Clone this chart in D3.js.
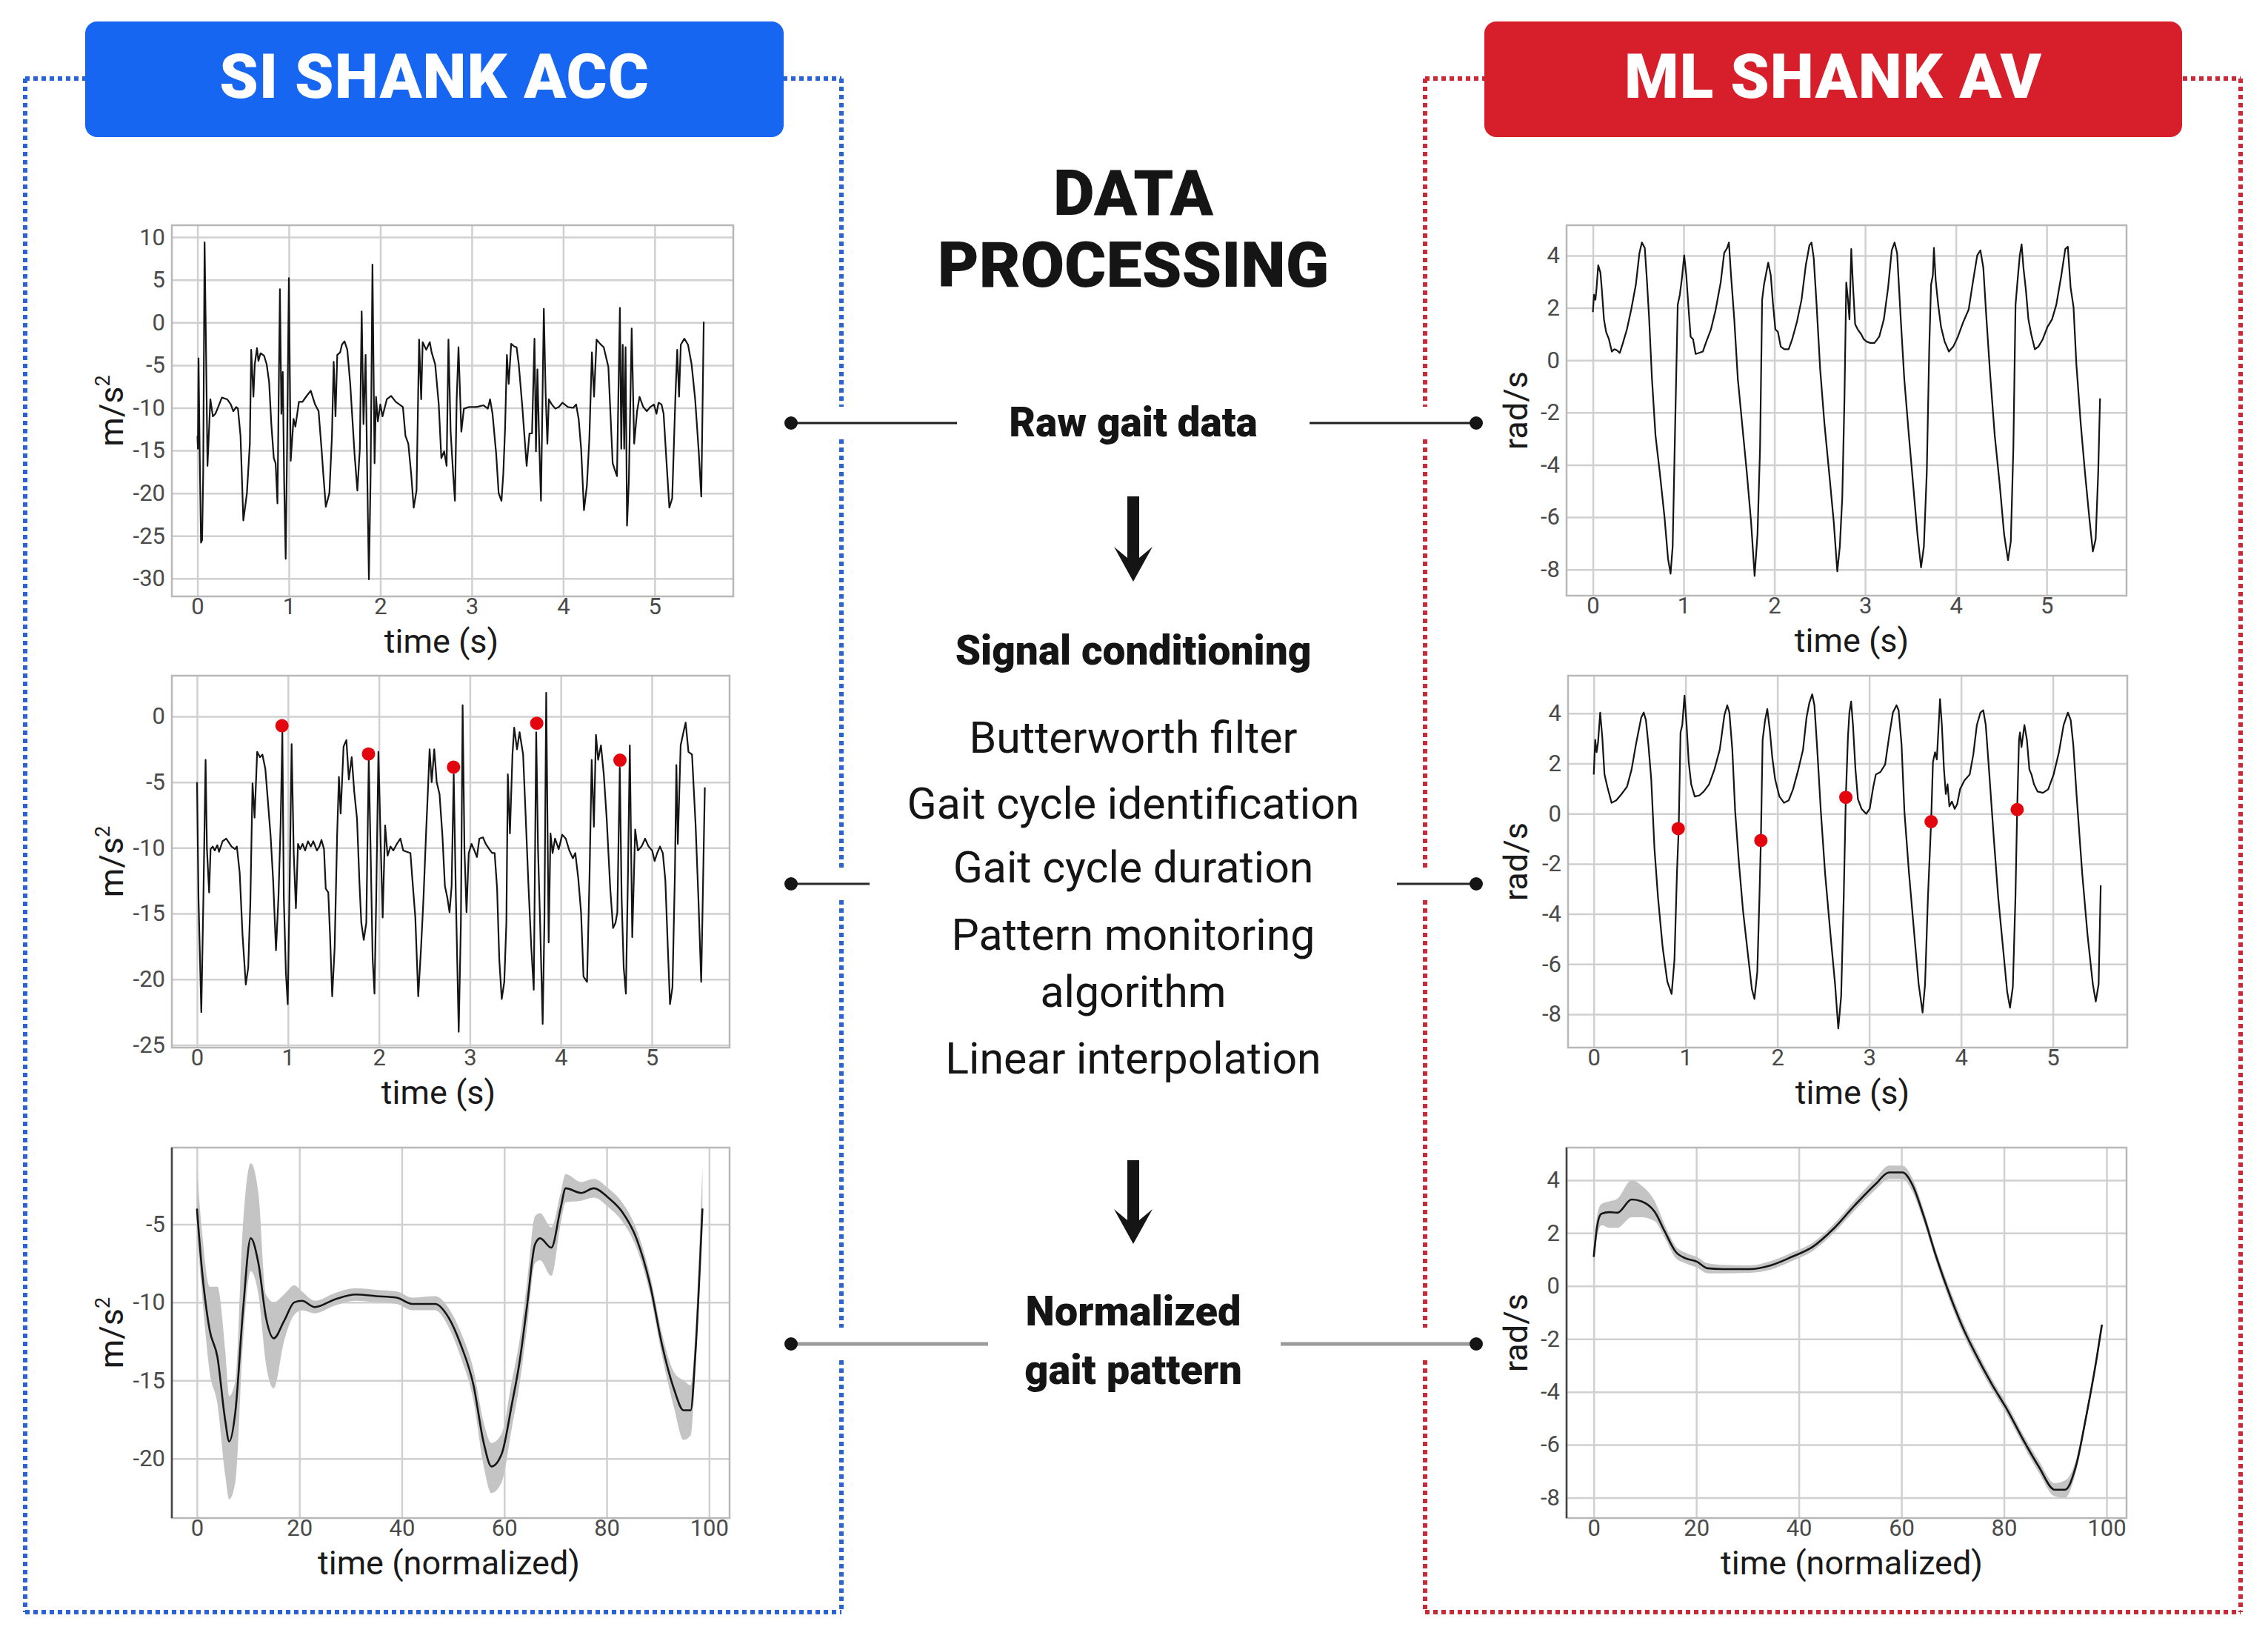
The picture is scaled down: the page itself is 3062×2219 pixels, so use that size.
<!DOCTYPE html>
<html>
<head>
<meta charset="utf-8">
<script src="https://cdn.jsdelivr.net/npm/d3@7"></script>
<style>
  body { margin: 0; background: #fff; }
  text { font-family: Roboto, "Noto Sans", sans-serif; }
</style>
</head>
<body>
<script>
// Gait data processing figure, drawn with D3

// tick labels
var timeTicks = [0, 1, 2, 3, 4, 5];
var normTicks = [0, 20, 40, 60, 80, 100];
var accRawTicks = [-30, -25, -20, -15, -10, -5, 0, 5, 10];
var accFiltTicks = [-25, -20, -15, -10, -5, 0];
var accNormTicks = [-20, -15, -10, -5];
var avTicks = [-8, -6, -4, -2, 0, 2, 4];

// texts
var leftTitle = "SI SHANK ACC",
    rightTitle = "ML SHANK AV",
    stepTitle = ["DATA", "PROCESSING"],
    stepRaw = "Raw gait data",
    stepCond = "Signal conditioning",
    condItems = ["Butterworth filter", "Gait cycle identification", "Gait cycle duration",
                 "Pattern monitoring", "algorithm", "Linear interpolation"],
    stepNorm = ["Normalized", "gait pattern"];

// SI shank acceleration, raw [time s, m/s2]
var accRaw = [[0.00,-13.3],[0.005,-14.8],[0.012,-4.2],[0.024,-14.8],[0.039,-25.8],[0.051,-25.5],[0.063,-17.7],[0.078,9.4],[0.094,-3.2],[0.110,-16.8],[0.141,-9.0],[0.169,-11.0],[0.196,-10.7],[0.227,-9.9],[0.267,-8.8],[0.325,-9.0],[0.365,-9.6],[0.392,-10.4],[0.424,-9.9],[0.443,-10.1],[0.471,-13.3],[0.502,-23.2],[0.541,-20.0],[0.573,-14.2],[0.588,-3.2],[0.612,-8.7],[0.627,-4.9],[0.651,-3.0],[0.667,-4.5],[0.690,-3.6],[0.729,-3.9],[0.757,-4.9],[0.784,-7.0],[0.808,-11.9],[0.835,-15.9],[0.855,-16.5],[0.875,-21.2],[0.902,3.9],[0.918,-10.7],[0.933,-5.8],[0.949,-19.1],[0.965,-27.7],[0.980,-14.8],[1.000,5.2],[1.020,-16.2],[1.051,-11.3],[1.071,-12.2],[1.110,-9.3],[1.149,-9.3],[1.188,-8.7],[1.239,-8.0],[1.286,-9.6],[1.325,-10.4],[1.357,-14.8],[1.376,-17.7],[1.404,-21.6],[1.443,-20.0],[1.471,-13.3],[1.490,-4.6],[1.510,-11.0],[1.529,-3.8],[1.561,-3.5],[1.580,-2.6],[1.608,-2.2],[1.639,-3.2],[1.671,-7.2],[1.698,-11.9],[1.718,-15.4],[1.749,-19.7],[1.776,-14.8],[1.796,1.3],[1.816,-11.9],[1.839,-3.8],[1.855,-16.5],[1.875,-30.1],[1.894,-17.7],[1.914,6.8],[1.937,-16.5],[1.953,-8.7],[1.973,-11.6],[2.000,-9.6],[2.024,-11.0],[2.071,-9.0],[2.118,-8.6],[2.169,-9.3],[2.208,-9.6],[2.247,-9.9],[2.275,-13.3],[2.306,-14.2],[2.337,-17.7],[2.365,-21.7],[2.396,-19.7],[2.424,-2.0],[2.447,-9.0],[2.463,-2.3],[2.502,-3.2],[2.541,-2.3],[2.561,-3.5],[2.600,-4.9],[2.639,-9.6],[2.667,-15.9],[2.698,-15.1],[2.725,-16.8],[2.745,-2.0],[2.769,-12.8],[2.796,-17.7],[2.816,-20.9],[2.835,-9.0],[2.855,-2.9],[2.886,-12.8],[2.914,-10.1],[2.973,-9.9],[3.051,-9.9],[3.129,-9.7],[3.176,-10.1],[3.200,-9.0],[3.227,-10.7],[3.267,-15.4],[3.294,-20.0],[3.325,-20.9],[3.345,-17.7],[3.365,-12.2],[3.384,-3.8],[3.404,-7.2],[3.431,-2.5],[3.463,-2.8],[3.490,-2.9],[3.514,-4.9],[3.553,-9.9],[3.600,-16.8],[3.631,-13.0],[3.659,-13.0],[3.686,-1.9],[3.702,-15.1],[3.718,-5.5],[3.737,-13.9],[3.757,-20.9],[3.788,1.6],[3.808,-8.4],[3.827,-14.2],[3.843,-9.0],[3.875,-9.6],[3.914,-10.1],[3.953,-9.9],[3.992,-9.4],[4.051,-9.9],[4.110,-10.0],[4.141,-9.6],[4.169,-11.3],[4.196,-14.8],[4.227,-22.0],[4.259,-19.1],[4.286,-13.6],[4.314,-3.5],[4.337,-8.7],[4.365,-2.0],[4.404,-2.5],[4.443,-2.9],[4.494,-5.2],[4.541,-16.5],[4.588,-18.0],[4.620,1.7],[4.635,-14.8],[4.651,-2.6],[4.667,-14.8],[4.682,-2.9],[4.698,-23.8],[4.718,-18.6],[4.749,-0.7],[4.776,-14.2],[4.808,-10.4],[4.835,-8.7],[4.875,-9.9],[4.914,-10.4],[4.953,-9.9],[4.992,-9.6],[5.020,-10.7],[5.043,-9.4],[5.075,-9.6],[5.098,-10.7],[5.129,-16.2],[5.161,-21.7],[5.192,-20.6],[5.227,-8.7],[5.247,-3.2],[5.267,-8.7],[5.286,-2.6],[5.325,-1.9],[5.365,-2.6],[5.404,-4.9],[5.443,-9.0],[5.482,-15.1],[5.510,-20.4],[5.537,0.1]];

// SI shank acceleration, conditioned
var accFilt = [[0.000,-5.0],[0.016,-13.8],[0.047,-22.5],[0.070,-13.8],[0.094,-3.3],[0.109,-10.1],[0.133,-13.4],[0.149,-10.1],[0.172,-9.9],[0.195,-10.2],[0.223,-9.8],[0.242,-10.3],[0.281,-9.5],[0.321,-9.3],[0.379,-9.9],[0.418,-10.1],[0.438,-9.9],[0.469,-11.9],[0.500,-16.6],[0.536,-20.4],[0.563,-19.1],[0.586,-14.2],[0.610,-5.1],[0.633,-7.7],[0.661,-2.7],[0.692,-3.1],[0.719,-2.9],[0.751,-4.0],[0.782,-6.7],[0.809,-9.1],[0.837,-12.5],[0.868,-17.8],[0.895,-13.8],[0.919,-8.2],[0.938,-1.2],[0.954,-13.8],[0.977,-19.5],[0.997,-21.9],[1.016,-13.8],[1.040,-2.1],[1.063,-10.4],[1.087,-14.6],[1.110,-9.7],[1.134,-10.1],[1.161,-9.7],[1.188,-10.2],[1.220,-9.5],[1.251,-9.9],[1.278,-9.5],[1.318,-10.2],[1.345,-9.9],[1.368,-9.4],[1.396,-10.1],[1.415,-13.1],[1.443,-13.4],[1.462,-16.6],[1.486,-21.3],[1.513,-17.6],[1.540,-9.1],[1.560,-4.6],[1.579,-7.4],[1.611,-2.3],[1.642,-1.8],[1.669,-4.8],[1.701,-3.1],[1.728,-5.7],[1.759,-7.8],[1.787,-12.9],[1.806,-15.7],[1.833,-17.0],[1.861,-15.7],[1.888,-3.3],[1.908,-10.1],[1.931,-18.5],[1.951,-21.1],[1.970,-13.8],[1.994,-2.7],[2.021,-10.1],[2.041,-15.3],[2.068,-8.3],[2.095,-10.6],[2.127,-9.9],[2.158,-10.2],[2.197,-9.7],[2.236,-9.3],[2.267,-10.2],[2.307,-10.3],[2.346,-10.4],[2.373,-12.9],[2.400,-15.3],[2.432,-21.3],[2.463,-17.6],[2.490,-13.8],[2.518,-8.9],[2.541,-5.2],[2.557,-2.5],[2.580,-5.0],[2.608,-2.5],[2.635,-5.0],[2.666,-5.9],[2.698,-9.1],[2.725,-12.9],[2.752,-13.8],[2.776,-14.9],[2.799,-12.9],[2.822,-4.4],[2.846,-13.8],[2.877,-24.0],[2.901,-15.7],[2.920,0.85],[2.940,-10.1],[2.963,-14.9],[2.987,-10.4],[3.018,-9.7],[3.049,-10.2],[3.077,-10.7],[3.104,-9.3],[3.143,-9.2],[3.174,-9.7],[3.213,-10.1],[3.245,-10.4],[3.272,-10.4],[3.299,-13.1],[3.323,-18.5],[3.350,-21.5],[3.378,-20.2],[3.401,-15.7],[3.417,-4.4],[3.440,-8.9],[3.468,-2.9],[3.487,-0.85],[3.518,-2.5],[3.546,-1.2],[3.585,-2.9],[3.612,-7.4],[3.644,-12.9],[3.675,-17.6],[3.702,-20.8],[3.729,-1.2],[3.749,-10.1],[3.772,-15.7],[3.800,-23.4],[3.819,-15.7],[3.839,1.8],[3.866,-17.2],[3.886,-8.9],[3.909,-10.4],[3.936,-9.3],[3.976,-10.1],[4.015,-9.0],[4.054,-9.3],[4.093,-10.2],[4.132,-10.8],[4.159,-10.4],[4.191,-12.3],[4.222,-14.9],[4.249,-19.8],[4.288,-20.2],[4.316,-11.9],[4.339,-3.3],[4.363,-8.4],[4.386,-1.4],[4.410,-3.3],[4.441,-2.2],[4.472,-4.4],[4.504,-7.8],[4.543,-13.1],[4.574,-16.1],[4.601,-15.7],[4.621,-14.9],[4.648,-3.9],[4.668,-13.8],[4.691,-19.1],[4.715,-21.1],[4.738,-11.9],[4.758,-2.2],[4.785,-16.8],[4.817,-8.6],[4.847,-10.2],[4.887,-9.9],[4.926,-9.3],[4.965,-9.9],[5.004,-10.2],[5.031,-11.0],[5.059,-10.4],[5.090,-9.9],[5.121,-10.4],[5.149,-12.5],[5.176,-17.6],[5.200,-21.9],[5.227,-20.6],[5.254,-11.9],[5.270,-3.7],[5.286,-9.7],[5.317,-2.2],[5.348,-1.2],[5.372,-0.47],[5.403,-2.7],[5.442,-2.9],[5.481,-8.2],[5.512,-13.8],[5.543,-20.2],[5.583,-5.4]];
var accEvents = [[0.934,-0.71],[1.885,-2.86],[2.82,-3.86],[3.735,-0.52],[4.65,-3.33]];

// SI shank acceleration, normalized [time %, mean, lower, upper]
var accNorm = [[0,-4.0,-5.5,-1.5],[1,-8.0,-9.5,-5.5],[2.5,-11.8,-14.5,-9.0],[4,-13.5,-16.5,-9.0],[5.5,-17.5,-21.0,-13.0],[6.3,-18.9,-22.6,-16.0],[7.5,-17.0,-21.5,-15.0],[9,-10.5,-12.5,-5.0],[10.5,-5.9,-8.0,-1.1],[12,-7.5,-9.5,-3.0],[13.5,-11.0,-14.0,-9.5],[15,-12.3,-15.5,-10.0],[17,-11.2,-12.5,-9.5],[19,-10.0,-10.8,-8.9],[20.5,-9.9,-10.5,-9.3],[23,-10.3,-10.7,-9.9],[27,-9.8,-10.2,-9.4],[31,-9.5,-9.9,-9.1],[35,-9.6,-10.0,-9.2],[39,-9.7,-10.1,-9.3],[42,-10.1,-10.5,-9.7],[46.5,-10.1,-10.5,-9.6],[49,-10.9,-11.5,-10.3],[51.5,-12.7,-13.5,-11.9],[54,-15.3,-16.3,-14.3],[56,-19.0,-20.5,-17.7],[57.5,-20.5,-22.2,-19.0],[59.5,-19.7,-21.5,-18.4],[61.5,-16.5,-18.0,-15.0],[63,-13.8,-15.2,-12.4],[64.5,-10.1,-11.5,-8.6],[66,-6.3,-7.5,-4.5],[67,-5.9,-7.3,-4.3],[69.2,-6.5,-8.3,-5.2],[71,-4.0,-5.0,-3.0],[72,-2.7,-3.6,-1.8],[75,-3.0,-3.5,-2.3],[77.5,-2.7,-3.3,-2.1],[80.3,-3.3,-3.9,-2.7],[83,-4.2,-4.8,-3.6],[85.8,-5.9,-6.5,-5.3],[88.5,-8.9,-9.5,-8.3],[90.8,-12.7,-13.4,-12.0],[93.2,-15.6,-16.8,-14.5],[95,-16.9,-18.8,-15.0],[96.4,-16.9,-18.5,-15.3],[97.3,-13.4,-14.5,-12.0],[98.7,-4.0,-4.3,-1.3]];

// ML shank angular velocity, raw [time s, rad/s]
var avRaw = [[0.000,1.84],[0.012,2.50],[0.028,2.31],[0.039,2.69],[0.059,3.63],[0.083,3.35],[0.099,2.69],[0.122,1.56],[0.146,1.08],[0.177,0.80],[0.209,0.33],[0.237,0.42],[0.264,0.38],[0.296,0.28],[0.327,0.61],[0.375,1.18],[0.422,1.93],[0.473,2.88],[0.513,4.10],[0.540,4.50],[0.572,4.29],[0.595,3.07],[0.619,1.65],[0.651,-0.71],[0.690,-2.88],[0.737,-4.29],[0.789,-5.99],[0.828,-7.59],[0.856,-8.16],[0.879,-7.12],[0.907,-2.41],[0.935,2.12],[0.958,2.50],[0.982,3.16],[1.006,4.01],[1.029,3.25],[1.053,2.03],[1.077,0.90],[1.104,0.80],[1.132,0.24],[1.171,0.28],[1.211,0.33],[1.250,0.71],[1.301,1.18],[1.353,1.93],[1.408,2.97],[1.447,4.10],[1.479,4.29],[1.499,4.50],[1.522,3.25],[1.558,1.56],[1.597,-0.71],[1.644,-2.41],[1.696,-4.29],[1.743,-6.18],[1.782,-8.25],[1.814,-6.65],[1.842,-3.35],[1.865,2.31],[1.885,2.88],[1.905,3.25],[1.932,3.73],[1.960,3.25],[1.983,2.22],[2.011,1.18],[2.039,1.08],[2.070,0.52],[2.110,0.42],[2.157,0.42],[2.196,0.80],[2.248,1.46],[2.299,2.31],[2.346,3.63],[2.386,4.39],[2.409,4.50],[2.433,3.92],[2.465,2.12],[2.504,-0.33],[2.551,-2.41],[2.603,-4.29],[2.654,-6.18],[2.693,-8.07],[2.721,-7.12],[2.748,-5.24],[2.772,-1.46],[2.792,2.97],[2.811,2.31],[2.827,1.56],[2.847,4.25],[2.867,2.78],[2.890,1.37],[2.918,1.18],[2.957,0.99],[2.985,0.80],[3.017,0.71],[3.056,0.66],[3.103,0.66],[3.155,0.90],[3.206,1.56],[3.253,2.78],[3.293,4.20],[3.324,4.50],[3.352,4.10],[3.391,1.65],[3.431,-0.71],[3.482,-2.88],[3.529,-4.76],[3.576,-6.65],[3.616,-7.92],[3.647,-7.12],[3.679,-4.29],[3.706,0.42],[3.726,2.88],[3.746,3.25],[3.758,4.29],[3.777,3.07],[3.805,2.12],[3.836,1.27],[3.876,0.71],[3.923,0.33],[3.971,0.52],[4.022,0.90],[4.081,1.46],[4.140,1.93],[4.191,3.07],[4.235,4.01],[4.270,4.20],[4.302,3.54],[4.337,1.56],[4.377,-0.52],[4.428,-2.88],[4.483,-4.76],[4.531,-6.65],[4.574,-7.64],[4.605,-6.93],[4.633,-3.35],[4.657,2.12],[4.680,3.07],[4.704,4.01],[4.724,4.43],[4.744,3.54],[4.771,2.69],[4.799,1.56],[4.830,0.99],[4.870,0.42],[4.909,0.52],[4.957,0.80],[5.008,1.27],[5.059,1.56],[5.106,2.12],[5.162,3.25],[5.205,4.25],[5.233,4.34],[5.264,2.78],[5.296,2.03],[5.327,-0.14],[5.375,-2.41],[5.422,-4.29],[5.469,-5.99],[5.509,-7.31],[5.540,-6.84],[5.568,-4.29],[5.588,-1.46]];

// ML shank angular velocity, conditioned
var avFilt = [[0.000,1.56],[0.016,2.94],[0.031,2.45],[0.047,2.84],[0.070,4.03],[0.093,3.04],[0.117,1.56],[0.148,1.07],[0.194,0.43],[0.245,0.53],[0.303,0.78],[0.362,1.07],[0.412,1.76],[0.459,2.75],[0.517,3.83],[0.544,4.03],[0.568,3.73],[0.595,2.75],[0.626,1.37],[0.661,-1.39],[0.700,-3.36],[0.750,-5.32],[0.801,-6.70],[0.848,-7.19],[0.879,-5.82],[0.906,-2.37],[0.925,-0.60],[0.945,3.24],[0.964,3.53],[0.988,4.71],[1.011,3.53],[1.034,2.06],[1.061,1.17],[1.100,0.68],[1.151,0.73],[1.198,0.88],[1.256,1.17],[1.314,1.76],[1.372,2.55],[1.423,3.93],[1.454,4.32],[1.477,4.03],[1.509,2.55],[1.540,0.09],[1.579,-1.88],[1.625,-3.85],[1.676,-5.52],[1.722,-7.00],[1.750,-7.39],[1.781,-6.31],[1.804,-3.36],[1.820,-1.07],[1.839,2.94],[1.866,3.73],[1.890,4.17],[1.917,3.34],[1.944,2.25],[1.975,1.37],[2.022,0.68],[2.072,0.43],[2.123,0.53],[2.170,0.97],[2.228,1.76],[2.279,2.55],[2.317,3.83],[2.348,4.42],[2.379,4.76],[2.403,4.32],[2.434,2.55],[2.473,0.09],[2.519,-2.37],[2.578,-4.83],[2.628,-6.80],[2.663,-8.57],[2.694,-7.29],[2.722,-3.36],[2.745,0.65],[2.768,3.04],[2.784,4.03],[2.803,4.47],[2.823,3.53],[2.850,1.76],[2.877,0.58],[2.916,0.19],[2.967,-0.01],[3.005,0.19],[3.044,1.07],[3.072,1.56],[3.122,1.66],[3.173,1.96],[3.219,3.14],[3.258,4.03],[3.297,4.32],[3.320,4.12],[3.352,2.75],[3.383,0.09],[3.433,-2.37],[3.491,-4.83],[3.538,-6.80],[3.581,-7.93],[3.608,-6.80],[3.639,-3.36],[3.674,-0.32],[3.694,2.06],[3.717,2.45],[3.736,2.16],[3.756,3.53],[3.771,4.57],[3.791,3.53],[3.814,1.76],[3.834,0.78],[3.853,1.17],[3.873,0.29],[3.900,0.48],[3.931,0.19],[3.958,0.38],[3.989,0.97],[4.036,1.32],[4.094,1.56],[4.133,2.35],[4.172,3.53],[4.211,4.03],[4.242,4.12],[4.269,3.53],[4.308,1.56],[4.355,-0.90],[4.405,-3.36],[4.456,-5.32],[4.502,-7.10],[4.533,-7.74],[4.564,-6.90],[4.592,-3.36],[4.611,0.16],[4.631,2.94],[4.642,3.24],[4.658,2.65],[4.690,3.53],[4.717,2.94],[4.744,1.76],[4.767,1.56],[4.794,1.17],[4.833,0.88],[4.891,0.83],[4.949,0.97],[5.008,1.56],[5.066,2.45],[5.117,3.53],[5.163,4.03],[5.194,3.73],[5.222,2.75],[5.261,0.58],[5.319,-2.37],[5.377,-4.83],[5.435,-6.80],[5.467,-7.49],[5.498,-6.80],[5.521,-2.86]];
var avEvents = [[0.92,-0.6],[1.82,-1.07],[2.745,0.65],[3.674,-0.32],[4.611,0.16]];

// ML shank angular velocity, normalized [time %, mean, lower, upper]
var avNorm = [[0,1.1,0.6,1.5],[0.7,2.3,1.9,2.7],[1.5,2.73,2.3,3.1],[3.1,2.79,2.2,3.2],[4.6,2.77,2.2,3.3],[7.4,3.27,2.6,4.0],[9.3,3.2,2.6,3.8],[11.9,2.8,2.45,3.2],[13.9,2.04,1.8,2.3],[16,1.29,1.05,1.5],[18,1.04,0.85,1.25],[20.1,0.92,0.7,1.1],[22.2,0.67,0.48,0.86],[25.2,0.64,0.48,0.8],[30.4,0.64,0.5,0.78],[34.5,0.78,0.62,0.94],[38.6,1.1,0.94,1.26],[42.7,1.48,1.32,1.64],[46.8,2.17,2.0,2.34],[50.9,3.05,2.86,3.24],[55,3.86,3.65,4.08],[57.6,4.29,4.05,4.55],[60.2,4.29,4.05,4.55],[62.2,3.8,3.55,4.05],[64.3,2.67,2.45,2.9],[66.8,1.1,0.9,1.3],[69.4,-0.33,-0.55,-0.1],[72,-1.58,-1.8,-1.35],[74.5,-2.58,-2.8,-2.36],[77.6,-3.7,-3.9,-3.5],[80.7,-4.7,-4.9,-4.5],[83.8,-5.83,-6.03,-5.63],[86.8,-6.83,-7.05,-6.6],[89.9,-7.7,-7.95,-7.45],[91.9,-7.7,-8.0,-7.35],[94,-6.83,-7.05,-6.6],[96,-4.96,-5.1,-4.8],[98.1,-2.7,-2.8,-2.6],[99.1,-1.46,-1.55,-1.37]];

var W = 3062, H = 2219;
var BLUE = "#1766f2", RED = "#d61f2b";

var svg = d3.select("body").append("svg")
    .attr("width", W)
    .attr("height", H);

// dotted frames, with gaps where the connectors cross
var connY = [571, 1193, 1814];

function vDotted(x, y0, y1, gaps, color) {
  var cuts = [y0];
  gaps.forEach(function(g) { cuts.push(g - 22, g + 22); });
  cuts.push(y1);
  for (var i = 0; i < cuts.length; i += 2) {
    svg.append("line")
      .attr("x1", x).attr("x2", x)
      .attr("y1", cuts[i]).attr("y2", cuts[i + 1])
      .attr("stroke", color).attr("stroke-width", 6)
      .attr("stroke-dasharray", "6,5");
  }
}
function hDotted(y, x0, x1, color) {
  svg.append("line")
    .attr("x1", x0).attr("x2", x1).attr("y1", y).attr("y2", y)
    .attr("stroke", color).attr("stroke-width", 6)
    .attr("stroke-dasharray", "6,5");
}

vDotted(34, 106, 2176, [], "#2a62d8");
vDotted(1136, 106, 2176, connY, "#2a62d8");
hDotted(106, 34, 1136, "#2a62d8");
hDotted(2176, 34, 1136, "#2a62d8");

vDotted(1924, 106, 2176, connY, "#c92a35");
vDotted(3025, 106, 2176, [], "#c92a35");
hDotted(106, 1924, 3025, "#c92a35");
hDotted(2176, 1924, 3025, "#c92a35");

// title boxes
function titleBox(x0, x1, color, label) {
  svg.append("rect")
    .attr("x", x0).attr("y", 29)
    .attr("width", x1 - x0).attr("height", 156)
    .attr("rx", 16)
    .attr("fill", color);
  svg.append("text")
    .attr("x", (x0 + x1) / 2).attr("y", 132)
    .attr("text-anchor", "middle")
    .attr("fill", "#fff")
    .attr("font-size", 84).attr("font-weight", 900)
    .attr("letter-spacing", 1)
    .text(label);
}
titleBox(115, 1058, BLUE, leftTitle);
titleBox(2004, 2946, RED, rightTitle);

// one ggplot-like panel
function drawPanel(p) {
  var g = svg.append("g").attr("transform", "translate(" + p.x + "," + p.y + ")");
  var x = d3.scaleLinear().domain(p.xDomain).range([0, p.w]);
  var y = d3.scaleLinear().domain(p.yDomain).range([p.h, 0]);

  var gy = g.append("g").call(d3.axisLeft(y).tickValues(p.yTicks).tickSize(-p.w).tickFormat(""));
  var gx = g.append("g").attr("transform", "translate(0," + p.h + ")")
      .call(d3.axisBottom(x).tickValues(p.xTicks).tickSize(p.h).tickFormat(""));
  gx.selectAll(".tick line").attr("y2", -p.h);
  [gx, gy].forEach(function(a) {
    a.select(".domain").remove();
    a.selectAll(".tick line").attr("stroke", "#d0d0d0").attr("stroke-width", 2.5);
  });

  g.append("rect")
    .attr("width", p.w).attr("height", p.h)
    .attr("fill", "none").attr("stroke", "#b8b8b8").attr("stroke-width", 2.5);
  if (p.leftAxis) {
    g.append("line").attr("x1", 0).attr("x2", 0).attr("y1", 0).attr("y2", p.h)
      .attr("stroke", "#444").attr("stroke-width", 2.5);
  }

  if (p.band) {
    g.append("path").datum(p.band)
      .attr("d", d3.area()
        .x(function(d) { return x(d[0]); })
        .y0(function(d) { return y(d[2]); })
        .y1(function(d) { return y(d[3]); })
        .curve(d3.curveMonotoneX))
      .attr("fill", "#c4c4c4");
  }

  g.append("path").datum(p.series)
    .attr("d", d3.line()
      .x(function(d) { return x(d[0]); })
      .y(function(d) { return y(d[1]); })
      .curve(p.smooth ? d3.curveMonotoneX : d3.curveLinear))
    .attr("fill", "none")
    .attr("stroke", "#151515")
    .attr("stroke-width", p.smooth ? 2.6 : 2.2)
    .attr("stroke-linejoin", "round");

  if (p.dots) {
    g.selectAll("circle.ev").data(p.dots).enter().append("circle")
      .attr("cx", function(d) { return x(d[0]); })
      .attr("cy", function(d) { return y(d[1]); })
      .attr("r", 9)
      .attr("fill", "#e3060f");
  }

  // tick labels
  var ly = g.append("g").call(d3.axisLeft(y).tickValues(p.yTicks).tickSize(0).tickPadding(9)
      .tickFormat(function(d) { return String(d); }));
  var lx = g.append("g").attr("transform", "translate(0," + p.h + ")")
      .call(d3.axisBottom(x).tickValues(p.xTicks).tickSize(0).tickPadding(2)
      .tickFormat(function(d) { return String(d); }));
  [lx, ly].forEach(function(a) {
    a.select(".domain").remove();
    a.selectAll("text").attr("font-family", "Roboto, sans-serif")
      .attr("font-size", 31).attr("fill", "#4a4a4a");
  });

  // axis titles
  svg.append("text")
    .attr("x", p.titleX).attr("y", p.y + p.h + 76)
    .attr("text-anchor", "middle")
    .attr("font-size", 45).attr("fill", "#1a1a1a")
    .text(p.xTitle);
  var yt = svg.append("text")
    .attr("transform", "translate(" + p.yTitleX + "," + (p.y + p.h / 2) + ") rotate(-90)")
    .attr("text-anchor", "middle")
    .attr("font-size", 45).attr("fill", "#1a1a1a");
  if (p.yTitle === "m/s2") {
    yt.append("tspan").text("m/s");
    yt.append("tspan").attr("font-size", 27).attr("dy", -18).text("2");
  } else {
    yt.text(p.yTitle);
  }
}

var leftX = 232, rightX = 2115;
var rowY = [304, 912, 1549];

drawPanel({x: leftX, y: rowY[0], w: 758, h: 501, xDomain: [-0.28, 5.86], yDomain: [-32.1, 11.4],
  xTicks: timeTicks, yTicks: accRawTicks, series: accRaw,
  xTitle: "time (s)", yTitle: "m/s2", titleX: 596, yTitleX: 166});
drawPanel({x: leftX, y: rowY[1], w: 753, h: 502, xDomain: [-0.277, 5.855], yDomain: [-25.2, 3.1],
  xTicks: timeTicks, yTicks: accFiltTicks, series: accFilt, dots: accEvents,
  xTitle: "time (s)", yTitle: "m/s2", titleX: 592, yTitleX: 166});
drawPanel({x: leftX, y: rowY[2], w: 753, h: 500, xDomain: [-4.9, 104], yDomain: [-23.8, -0.1],
  xTicks: normTicks, yTicks: accNormTicks, series: accNorm, band: accNorm, smooth: true, leftAxis: true,
  xTitle: "time (normalized)", yTitle: "m/s2", titleX: 606, yTitleX: 166});

drawPanel({x: rightX, y: rowY[0], w: 756, h: 500, xDomain: [-0.29, 5.88], yDomain: [-9.0, 5.16],
  xTicks: timeTicks, yTicks: avTicks, series: avRaw,
  xTitle: "time (s)", yTitle: "rad/s", titleX: 2500, yTitleX: 2062});
drawPanel({x: 2117, y: rowY[1], w: 755, h: 502, xDomain: [-0.28, 5.81], yDomain: [-9.33, 5.5],
  xTicks: timeTicks, yTicks: avTicks, series: avFilt, dots: avEvents,
  xTitle: "time (s)", yTitle: "rad/s", titleX: 2501, yTitleX: 2062});
drawPanel({x: rightX, y: rowY[2], w: 756, h: 500, xDomain: [-5.3, 103.9], yDomain: [-8.77, 5.23],
  xTicks: normTicks, yTicks: avTicks, series: avNorm, band: avNorm, smooth: true, leftAxis: true,
  xTitle: "time (normalized)", yTitle: "rad/s", titleX: 2500, yTitleX: 2062});

// centre column
var cx = 1530;
function centerText(str, yb, size, weight) {
  svg.append("text")
    .attr("x", cx).attr("y", yb)
    .attr("text-anchor", "middle")
    .attr("font-size", size).attr("font-weight", weight)
    .attr("fill", "#151515")
    .text(str);
}
centerText(stepTitle[0], 290, 86, 900);
centerText(stepTitle[1], 387, 86, 900);
centerText(stepRaw, 589, 55, 900);
centerText(stepCond, 897, 55, 900);
var itemY = [1016, 1105, 1191, 1282, 1359, 1449];
condItems.forEach(function(s, i) { centerText(s, itemY[i], 59, 400); });
centerText(stepNorm[0], 1789, 56, 900);
centerText(stepNorm[1], 1868, 56, 900);

function arrow(y0, y1) {
  svg.append("path")
    .attr("d", "M" + (cx - 8) + "," + y0 + "H" + (cx + 8) + "V" + (y1 - 32) +
      "L" + (cx + 26) + "," + (y1 - 47) + "L" + cx + "," + y1 +
      "L" + (cx - 26) + "," + (y1 - 47) + "L" + (cx - 8) + "," + (y1 - 32) + "Z")
    .attr("fill", "#151515");
}
arrow(670, 785);
arrow(1566, 1679);

// connectors between the centre labels and the panels
var connectors = [
  {y: connY[0], a: 1292, b: 1768, color: "#1e1e1e", w: 3},
  {y: connY[1], a: 1174, b: 1886, color: "#2a2a2a", w: 3},
  {y: connY[2], a: 1334, b: 1729, color: "#9a9a9a", w: 5}
];
connectors.forEach(function(c) {
  svg.append("line").attr("x1", 1068).attr("x2", c.a).attr("y1", c.y).attr("y2", c.y)
    .attr("stroke", c.color).attr("stroke-width", c.w);
  svg.append("line").attr("x1", c.b).attr("x2", 1993).attr("y1", c.y).attr("y2", c.y)
    .attr("stroke", c.color).attr("stroke-width", c.w);
  [1068, 1993].forEach(function(px) {
    svg.append("circle").attr("cx", px).attr("cy", c.y).attr("r", 9).attr("fill", "#151515");
  });
});
</script>
</body>
</html>
